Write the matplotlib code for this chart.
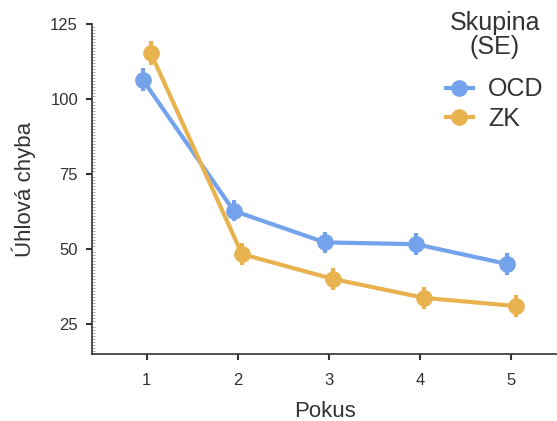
import matplotlib
matplotlib.use("Agg")
import matplotlib.pyplot as plt
from matplotlib.lines import Line2D
from matplotlib.ticker import MultipleLocator
import numpy as np

plt.rcParams['font.family'] = ['Liberation Sans', 'DejaVu Sans']

pokus = [1, 2, 3, 4, 5]
groups = ["OCD", "ZK"]
ocd_mean = [106.5, 62.7, 52.2, 51.6, 45.0]
ocd_se = [3.8, 3.5, 3.5, 3.6, 3.6]
zk_mean = [115.3, 48.3, 40.0, 33.7, 31.0]
zk_se = [4.0, 3.6, 3.6, 3.6, 3.6]
colors = {"OCD": "#74a3ec", "ZK": "#e8b34f"}
txt = "#333333"

fig = plt.figure(figsize=(5.57, 4.21), dpi=100)
ax = fig.add_axes([92 / 557, (421 - 354) / 421, (557 - 92) / 557, (354 - 24) / 421])

dodge = {"OCD": -0.045, "ZK": 0.045}
for g, m, se in [("OCD", ocd_mean, ocd_se), ("ZK", zk_mean, zk_se)]:
    x = np.array(pokus) + dodge[g]
    ax.errorbar(x, m, yerr=se, color=colors[g], lw=3, marker="o", ms=11,
                elinewidth=3, capsize=0, label=g, zorder=3)

ax.set_xlim(0.4, 5.5)
ax.set_ylim(15, 125)
ax.set_xticks(pokus)
ax.set_yticks([25, 50, 75, 100, 125])
ax.yaxis.set_minor_locator(MultipleLocator(1))
ax.tick_params(axis="y", which="minor", length=2, width=0.5, direction="in", color="#888888")
ax.tick_params(axis="both", which="major", length=4, width=1.5, labelsize=12, color=txt,
               labelcolor=txt)
ax.tick_params(axis="y", which="major", pad=6)
ax.tick_params(axis="x", which="major", pad=10)
for s in ["top", "right"]:
    ax.spines[s].set_visible(False)
for s in ["left", "bottom"]:
    ax.spines[s].set_linewidth(1.2)
    ax.spines[s].set_color(txt)

ax.set_xlabel("Pokus", fontsize=16, color=txt, labelpad=9)
ax.set_ylabel("Úhlová chyba", fontsize=16, color=txt, labelpad=10)

# legend: title as its own text block, entries as marker + short line stub
fig.text(495 / 557, 1 - 35 / 421, "Skupina\n(SE)", ha="center", va="center",
         fontsize=18, color=txt, linespacing=1.05, multialignment="center")
handles = [Line2D([], [], color=colors[g], lw=3, marker="o", ms=11) for g in groups]
leg = fig.legend(handles, groups, loc="upper left",
                 bbox_to_anchor=(423 / 557, 1 - 55 / 421),
                 frameon=False, fontsize=18, handlelength=1.1,
                 handletextpad=0.6, labelspacing=0.2)
for t in leg.get_texts():
    t.set_color(txt)

fig.savefig("out.png", dpi=100)
